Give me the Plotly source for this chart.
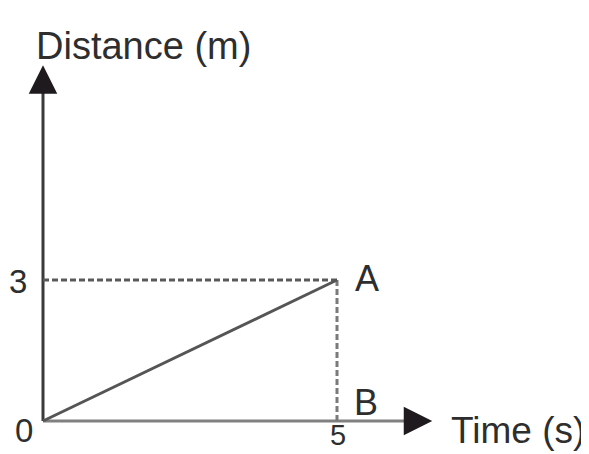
import plotly.graph_objects as go

# ---- data ----
time_vals = [0, 5]          # s
dist_vals = [0, 3]          # m
point_A = (5, 3)
point_B = (5, 0)
x_tick_labels = ["0", "5"]
y_tick_labels = ["3"]
x_axis_end = 6.62
y_axis_end = 7.57

# the page has an 8px body margin, so figure pixel = window pixel - 8
OFF = 8
W, H = 589, 454
OX, OY = 43 - OFF, 421 - OFF      # origin in figure pixels
SX, SY = 58.8, 47.0               # px per unit
FONT = "Liberation Sans, Arial, sans-serif"
TXT = "#2e2e2e"


def px(x):
    return (x - OFF) / W


def py(y):
    return 1 - (y - OFF) / H


fig = go.Figure()

# axes lines
fig.add_trace(go.Scatter(x=[0, 0], y=[0, y_axis_end - 0.4], mode="lines",
                         line=dict(color="#3a3a3a", width=3), hoverinfo="skip"))
fig.add_trace(go.Scatter(x=[0, x_axis_end - 0.4], y=[0, 0], mode="lines",
                         line=dict(color="#808080", width=3), hoverinfo="skip"))
# dashed guides
fig.add_trace(go.Scatter(x=[0, point_A[0]], y=[point_A[1], point_A[1]], mode="lines",
                         line=dict(color="#5a5a5a", width=3, dash="6px,3px"), hoverinfo="skip"))
fig.add_trace(go.Scatter(x=[point_A[0], point_B[0]], y=[point_A[1], point_B[1]], mode="lines",
                         line=dict(color="#7a7a7a", width=3, dash="6px,3px"), hoverinfo="skip"))
# distance-time line
fig.add_trace(go.Scatter(x=time_vals, y=dist_vals, mode="lines",
                         line=dict(color="#555555", width=3), hoverinfo="skip"))

ann = []
# arrowheads
ann.append(dict(x=0, y=y_axis_end, ax=0, ay=y_axis_end - 0.5, xref="x", yref="y",
                axref="x", ayref="y", showarrow=True, arrowhead=2, arrowsize=1.9,
                arrowwidth=3, arrowcolor="#1e1a1e", text=""))
ann.append(dict(x=x_axis_end, y=0, ax=x_axis_end - 0.5, ay=0, xref="x", yref="y",
                axref="x", ayref="y", showarrow=True, arrowhead=2, arrowsize=1.9,
                arrowwidth=3, arrowcolor="#1e1a1e", text=""))

# axis titles
ann.append(dict(x=px(143), y=py(46), xref="paper", yref="paper", text="Distance (m)",
                xanchor="center", yanchor="middle",
                showarrow=False, font=dict(family=FONT, size=38, color=TXT)))
ann.append(dict(x=px(518), y=py(430), xref="paper", yref="paper", text="Time (s)",
                xanchor="center", yanchor="middle",
                showarrow=False, font=dict(family=FONT, size=37, color=TXT)))

tk = dict(showarrow=False, xanchor="center", yanchor="middle", xref="x", yref="y",
          font=dict(family=FONT, size=33, color=TXT))
# tick labels
ann.append(dict(tk, x=0, y=dist_vals[1], text=y_tick_labels[0], xshift=-25, yshift=-1))
ann.append(dict(tk, x=0, y=0, text=x_tick_labels[0], xshift=-19, yshift=-9))
ann.append(dict(tk, x=time_vals[1], y=0, text=x_tick_labels[1], xshift=1, yshift=-14,
                font=dict(family=FONT, size=29, color=TXT)))
# point labels
lb = dict(tk, font=dict(family=FONT, size=36, color=TXT))
ann.append(dict(lb, x=point_A[0], y=point_A[1], text="A", xshift=30, yshift=2))
ann.append(dict(lb, x=point_B[0], y=point_B[1], text="B", xshift=29, yshift=19))

fig.update_layout(
    width=W, height=H,
    margin=dict(l=0, r=0, t=0, b=0),
    paper_bgcolor="white", plot_bgcolor="white",
    showlegend=False,
    annotations=ann,
    xaxis=dict(range=[-OX / SX, (W - OX) / SX], visible=False, fixedrange=True),
    yaxis=dict(range=[(OY - H) / SY, OY / SY], visible=False, fixedrange=True),
)

fig.write_html("out.html")
